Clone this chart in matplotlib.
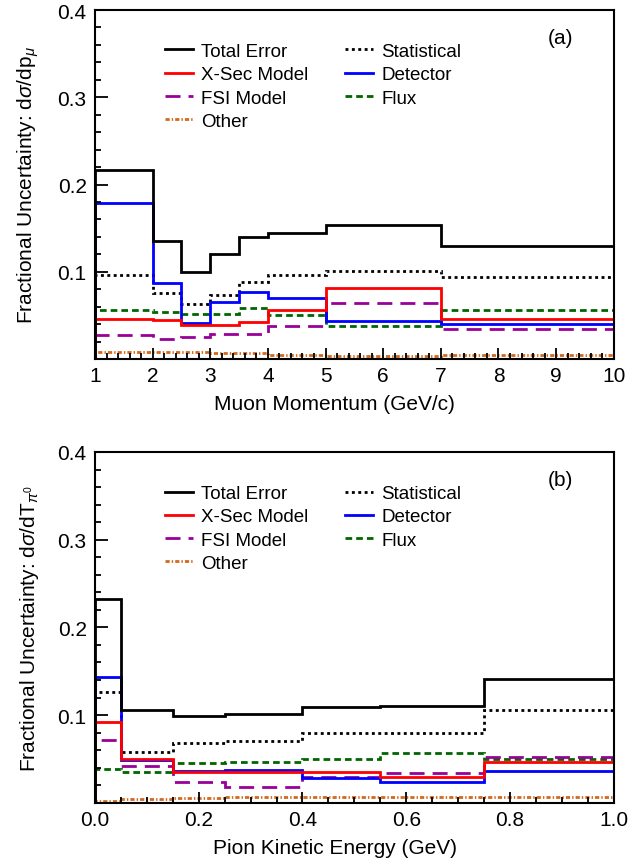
import numpy as np
import matplotlib
matplotlib.use("Agg")
import matplotlib.pyplot as plt
from matplotlib.ticker import MultipleLocator, FormatStrFormatter

plt.rcParams['font.family'] = ['Liberation Sans', 'DejaVu Sans']
plt.rcParams['mathtext.fontset'] = 'custom'
plt.rcParams['mathtext.rm'] = 'Liberation Sans'
plt.rcParams['mathtext.it'] = 'Liberation Sans:italic'
plt.rcParams['lines.scale_dashes'] = False

# (a) muon momentum bins (GeV/c)
p_edges = [1, 2, 2.5, 3, 3.5, 4, 5, 7, 10]
p_total = [0.217, 0.135, 0.100, 0.120, 0.140, 0.144, 0.154, 0.129]
p_stat = [0.096, 0.0755, 0.063, 0.073, 0.088, 0.096, 0.101, 0.094]
p_xsec = [0.046, 0.0444, 0.039, 0.039, 0.042, 0.056, 0.081, 0.046]
p_det = [0.179, 0.0866, 0.041, 0.065, 0.077, 0.070, 0.043, 0.040]
p_fsi = [0.027, 0.0226, 0.025, 0.029, 0.029, 0.038, 0.064, 0.034]
p_flux = [0.056, 0.054, 0.051, 0.052, 0.059, 0.050, 0.038, 0.0556]
p_other = [0.008, 0.008, 0.008, 0.007, 0.007, 0.005, 0.003, 0.005]

# (b) pion kinetic energy bins (GeV)
t_edges = [0, 0.05, 0.15, 0.25, 0.4, 0.55, 0.75, 1.0]
t_total = [0.232, 0.106, 0.099, 0.101, 0.109, 0.110, 0.141]
t_stat = [0.126, 0.058, 0.068, 0.070, 0.0795, 0.0795, 0.106]
t_xsec = [0.092, 0.050, 0.0354, 0.0354, 0.0354, 0.029, 0.047]
t_det = [0.143, 0.049, 0.0365, 0.0368, 0.028, 0.024, 0.0365]
t_fsi = [0.071, 0.042, 0.024, 0.018, 0.029, 0.034, 0.0525]
t_flux = [0.039, 0.0347, 0.045, 0.0468, 0.0495, 0.057, 0.050]
t_other = [0.002, 0.004, 0.005, 0.006, 0.006, 0.006, 0.006]

labels = ["Total Error", "X-Sec Model", "FSI Model", "Other",
          "Statistical", "Detector", "Flux"]
styles = {
    "Total Error": dict(color="black", ls="-"),
    "X-Sec Model": dict(color="#ff0000", ls="-"),
    "FSI Model": dict(color="#990099", ls=(0, (10.8, 5.8))),
    "Other": dict(color="#d2691e", ls=(0, (3.0, 1.5, 1.0, 1.5))),
    "Statistical": dict(color="black", ls=(0, (2.1, 2.5))),
    "Detector": dict(color="#0000ff", ls="-"),
    "Flux": dict(color="#006600", ls=(0, (4.8, 2.9))),
}
LW = 2.0


def draw_panel(ax, edges, series, xlabel, ylabel, tag, xmajor, xminor, xfmt):
    # components first, total on top
    order = ["Other", "Flux", "FSI Model", "Statistical", "Detector",
             "X-Sec Model", "Total Error"]
    for name in order:
        st = styles[name]
        ax.stairs(series[name], edges, baseline=0, color=st["color"],
                  linestyle=st["ls"], linewidth=LW, label=name)
    handles = [plt.Line2D([], [], color=styles[n]["color"],
                          linestyle=styles[n]["ls"], linewidth=LW)
               for n in labels]
    ax.legend(handles, labels, ncol=2, loc="upper left",
              bbox_to_anchor=(0.135, 0.906), frameon=False, fontsize=13.5,
              borderpad=0, borderaxespad=0, handlelength=1.5,
              handletextpad=0.44, columnspacing=1.95, labelspacing=0.33)

    ax.set_xlim(edges[0], edges[-1])
    ax.set_ylim(0, 0.4)
    ax.set_yticks([0.1, 0.2, 0.3, 0.4])
    ax.yaxis.set_minor_locator(MultipleLocator(0.02))
    ax.yaxis.set_major_formatter(FormatStrFormatter("%.1f"))
    ax.xaxis.set_major_locator(MultipleLocator(xmajor))
    ax.xaxis.set_minor_locator(MultipleLocator(xminor))
    ax.xaxis.set_major_formatter(FormatStrFormatter(xfmt))
    ax.tick_params(which="both", direction="in", top=False, right=False,
                   labelsize=15, width=1.3)
    ax.tick_params(axis="y", which="major", length=9, pad=6)
    ax.tick_params(axis="y", which="minor", length=4.5)
    ax.tick_params(axis="x", which="major", length=8, pad=5)
    ax.tick_params(axis="x", which="minor", length=4)
    for sp in ax.spines.values():
        sp.set_linewidth(1.5)

    ax.set_xlabel(xlabel, fontsize=15)
    ax.xaxis.set_label_coords(0.462, -0.1)
    ax.set_ylabel(ylabel, fontsize=15)
    ax.yaxis.set_label_coords(-0.105, 0.5)
    ax.text(0.898, 0.922, tag, transform=ax.transAxes, fontsize=15,
            ha="center", va="center")


fig = plt.figure(figsize=(6.44, 8.62), dpi=100)
ax1 = fig.add_axes([0.1475, 0.5824, 0.8055, 0.4048])
ax2 = fig.add_axes([0.1475, 0.0676, 0.8055, 0.4069])

draw_panel(ax1, p_edges,
           {"Total Error": p_total, "Statistical": p_stat, "X-Sec Model": p_xsec,
            "Detector": p_det, "FSI Model": p_fsi, "Flux": p_flux, "Other": p_other},
           "Muon Momentum (GeV/c)",
           r"Fractional Uncertainty: d$\sigma$/dp$_{\mu}$",
           "(a)", 1, 0.2, "%d")
draw_panel(ax2, t_edges,
           {"Total Error": t_total, "Statistical": t_stat, "X-Sec Model": t_xsec,
            "Detector": t_det, "FSI Model": t_fsi, "Flux": t_flux, "Other": t_other},
           "Pion Kinetic Energy (GeV)",
           r"Fractional Uncertainty: d$\sigma$/dT$_{\pi^{0}}$",
           "(b)", 0.2, 0.05, "%.1f")

fig.savefig("out.png", dpi=100)
